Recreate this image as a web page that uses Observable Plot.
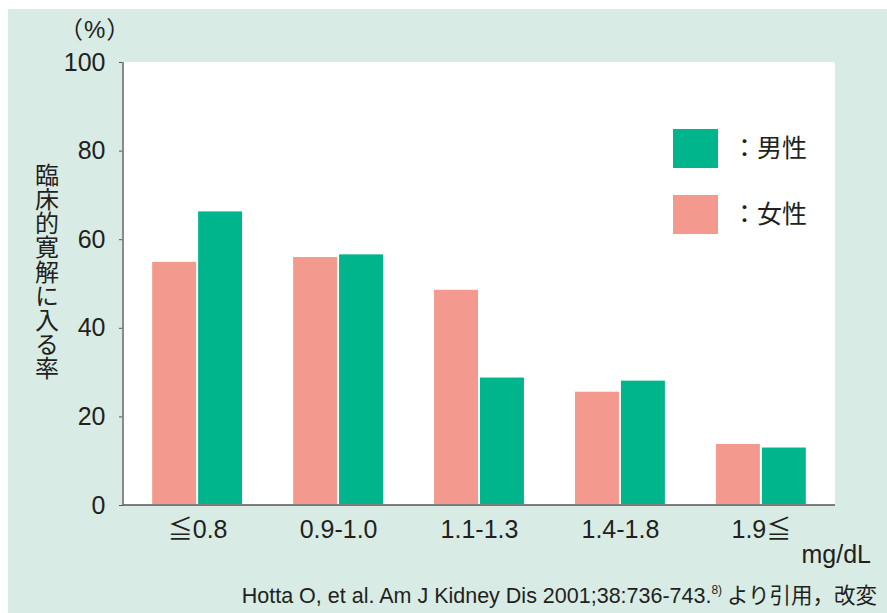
<!DOCTYPE html>
<html>
<head>
<meta charset="utf-8">
<script src="https://cdn.jsdelivr.net/npm/d3@7"></script>
<script src="https://cdn.jsdelivr.net/npm/@observablehq/plot@0.6"></script>
<style>
  html, body { margin: 0; padding: 0; background: #ffffff; }
  #chart { width: 887px; height: 613px; }
</style>
</head>
<body>
<div id="chart"></div>
<script>
// Serum creatinine bands (mg/dL)
const categories = ["≦0.8", "0.9-1.0", "1.1-1.3", "1.4-1.8", "1.9≦"];
// Clinical remission rate (%) by sex
const female = [55.1, 56.2, 48.8, 25.8, 14.0];
const male = [66.5, 56.8, 29.0, 28.3, 13.2];
const sexes = ["女性", "男性"];
const yTicks = [0, 20, 40, 60, 80, 100];

const GREEN = "#00b48c";
const PINK = "#f4998d";
const MINT = "#d8ece5";
const INK = "#231f20";
const LATIN = "'Liberation Sans', 'Noto Sans CJK JP', Arial, sans-serif";
const CJK = "'Noto Sans CJK JP', sans-serif";

const W = 887, H = 613;
const M = {left: 123, right: 52, top: 62, bottom: 108};
const PAD_INNER = 0.348, PAD_OUTER = 0.2;
// offset from the first facet band back to the frame's left edge
const step = (W - M.left - M.right) / (categories.length - PAD_INNER + 2 * PAD_OUTER);
const outerGap = PAD_OUTER * step;

const rows = categories.flatMap((c, i) => [
  {cat: c, sex: "女性", value: female[i]},
  {cat: c, sex: "男性", value: male[i]}
]);

const plot = Plot.plot({
  width: W,
  height: H,
  marginLeft: M.left,
  marginRight: M.right,
  marginTop: M.top,
  marginBottom: M.bottom,
  style: {background: "transparent", color: INK, fontFamily: LATIN, overflow: "visible"},
  fx: {domain: categories, paddingInner: PAD_INNER, paddingOuter: PAD_OUTER, round: false, label: null},
  x: {domain: sexes, padding: 0, round: false, axis: null},
  y: {domain: [0, 100], label: null},
  color: {domain: ["男性", "女性"], range: [GREEN, PINK]},
  marks: [
    Plot.barY(rows, {fx: "cat", x: "sex", y: "value", fill: "sex", inset: 1}),
    Plot.axisY({ticks: yTicks, tickSize: 4, tickPadding: 14, fontSize: 25, stroke: "#555", dx: -outerGap, label: null}),
    Plot.axisFx({anchor: "bottom", tickSize: 0, tickPadding: 15, fontSize: 25, label: null})
  ]
});

document.getElementById("chart").appendChild(plot);

const svg = d3.select(plot);
const yS = plot.scale("y");
const fxS = plot.scale("fx");
const [x0, x1] = fxS.range;
const yBottom = yS.apply(0);
const yTop = yS.apply(100);

// page panel and white plotting area behind everything
const bg = svg.insert("g", ":first-child");
bg.append("rect").attr("x", 8).attr("y", 9).attr("width", W - 8).attr("height", H - 9).attr("fill", MINT);
bg.append("rect").attr("x", x0).attr("y", yTop).attr("width", x1 - x0).attr("height", yBottom - yTop).attr("fill", "#ffffff");

// axis lines
svg.append("line").attr("x1", x0).attr("x2", x0).attr("y1", yTop).attr("y2", yBottom)
  .attr("stroke", "#8a8a8a").attr("stroke-width", 2);
svg.append("line").attr("x1", x0).attr("x2", x1).attr("y1", yBottom).attr("y2", yBottom)
  .attr("stroke", "#555").attr("stroke-width", 1.5);

// y-axis unit and title
svg.append("text").attr("x", 59).attr("y", 38).attr("text-anchor", "start")
  .attr("font-family", LATIN).attr("font-size", 24).attr("fill", INK)
  .style("letter-spacing", "1px").text("（%）");
svg.append("text").attr("x", 47).attr("y", 163).attr("text-anchor", "start")
  .attr("font-family", CJK).attr("font-size", 24).attr("fill", INK)
  .style("writing-mode", "vertical-rl").style("letter-spacing", "0.1px")
  .text("臨床的寛解に入る率");

// x-axis unit
svg.append("text").attr("x", 871).attr("y", 563).attr("text-anchor", "end")
  .attr("font-family", LATIN).attr("font-size", 25).attr("fill", INK).text("mg/dL");

// legend
const color = plot.scale("color");
[["男性", 129], ["女性", 195]].forEach(([k, top]) => {
  svg.append("rect").attr("x", 673).attr("y", top).attr("width", 45).attr("height", 39)
    .attr("fill", color.apply(k));
  svg.append("text").attr("x", 732).attr("y", top + 28).attr("text-anchor", "start")
    .attr("font-family", CJK).attr("font-size", 25).attr("fill", INK).text("：" + k);
});

// source note
const note = svg.append("text").attr("x", 877).attr("y", 603).attr("text-anchor", "end")
  .attr("font-family", LATIN).attr("font-size", 21.5).attr("fill", INK);
note.append("tspan").text("Hotta O, et al. Am J Kidney Dis 2001;38:736-743.");
note.append("tspan").attr("font-size", 12).attr("dy", -9).text("8)");
note.append("tspan").attr("dy", 9).attr("font-family", CJK).text(" より引用，改変");
</script>
</body>
</html>
